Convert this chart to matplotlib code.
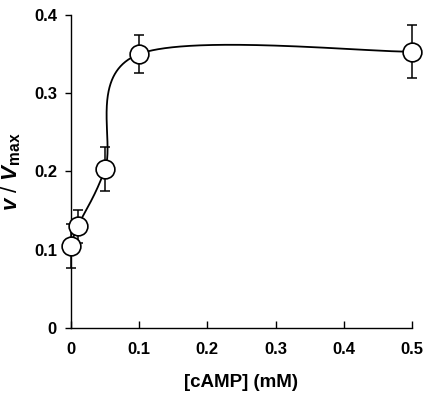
import numpy as np
import matplotlib
matplotlib.use("Agg")
import matplotlib.pyplot as plt

# data
camp = [0, 0.01, 0.05, 0.1, 0.5]
v_vmax = [0.105, 0.130, 0.203, 0.350, 0.353]
err = [0.028, 0.021, 0.028, 0.024, 0.034]

x_ticks = [0, 0.1, 0.2, 0.3, 0.4, 0.5]
x_ticklabels = ["0", "0.1", "0.2", "0.3", "0.4", "0.5"]
y_ticks = [0, 0.1, 0.2, 0.3, 0.4]
y_ticklabels = ["0", "0.1", "0.2", "0.3", "0.4"]


def smooth_line(ax, xs, ys, n=200):
    # spreadsheet-style smoothed line: cardinal bezier in screen space
    pts = ax.transData.transform(np.column_stack([xs, ys]))
    ext = np.vstack([pts[0], pts, pts[-1]])
    out = []
    for i in range(len(pts) - 1):
        p0 = ext[i + 1]
        p3 = ext[i + 2]
        c1 = p0 + (ext[i + 2] - ext[i]) / 6.0
        c2 = p3 - (ext[i + 3] - ext[i + 1]) / 6.0
        t = np.linspace(0, 1, n)[:, None]
        seg = ((1 - t) ** 3) * p0 + 3 * ((1 - t) ** 2) * t * c1 + 3 * (1 - t) * t ** 2 * c2 + t ** 3 * p3
        out.append(seg)
    out = np.vstack(out)
    return ax.transData.inverted().transform(out)


plt.rcParams['font.family'] = ['Liberation Sans', 'DejaVu Sans']
plt.rcParams['mathtext.fontset'] = 'custom'
plt.rcParams['mathtext.rm'] = 'Liberation Sans:bold'
plt.rcParams['mathtext.bf'] = 'Liberation Sans:bold'
plt.rcParams['mathtext.it'] = 'Liberation Sans:italic:bold'

fig = plt.figure(figsize=(4.27, 4.03), dpi=100)
ax = fig.add_axes([0.166, 0.186, 0.799, 0.777])
ax.set_xlim(0, 0.5)
ax.set_ylim(0, 0.4)

curve = smooth_line(ax, camp, v_vmax)
ax.plot(curve[:, 0], curve[:, 1], color="black", lw=1.3, clip_on=False, zorder=2)

ax.errorbar(camp, v_vmax, yerr=err, fmt="none", ecolor="black", elinewidth=1.1,
            capsize=3.5, capthick=1.1, clip_on=False, zorder=3)
ax.plot(camp, v_vmax, "o", ms=13.5, mfc="white", mec="black", mew=1.2,
        clip_on=False, zorder=4)

ax.spines["top"].set_visible(False)
ax.spines["right"].set_visible(False)
ax.spines["left"].set_linewidth(1.0)
ax.spines["bottom"].set_linewidth(1.0)

ax.set_xticks(x_ticks)
ax.set_xticklabels(x_ticklabels, fontsize=12, fontweight="bold")
ax.set_yticks(y_ticks)
ax.set_yticklabels(y_ticklabels, fontsize=12, fontweight="bold")
ax.tick_params(axis="x", direction="in", length=5, width=1, pad=10)
ax.tick_params(axis="y", direction="out", length=4, width=1, pad=6)

ax.set_xlabel("[cAMP] (mM)", fontsize=13.5, fontweight="bold", labelpad=12)
ax.set_ylabel(r"$v$ / $V_{\mathrm{max}}$", fontsize=16, labelpad=8)

fig.savefig("out.png", dpi=100)
